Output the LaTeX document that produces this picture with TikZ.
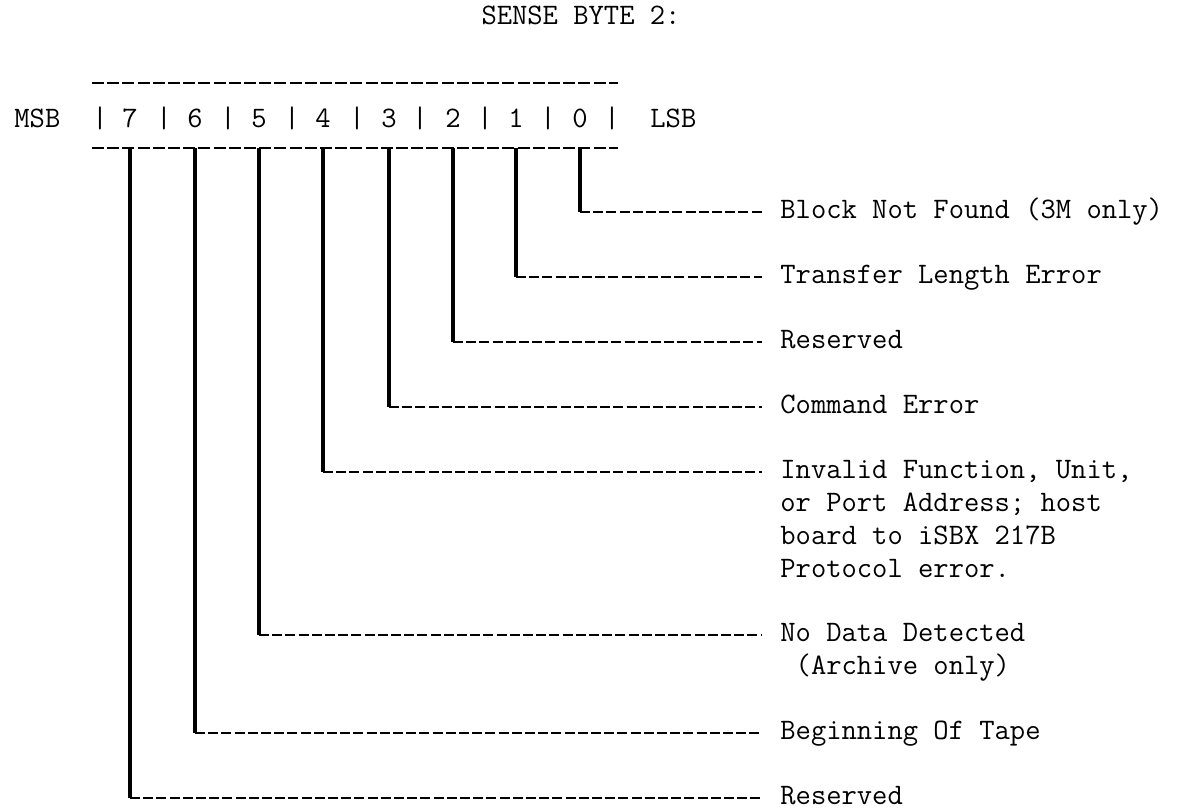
\documentclass[tikz,border=0pt]{standalone}
\usepackage{fontspec}
\begin{document}
\begin{tikzpicture}[x=0.5pt, y=-0.5pt]
\tikzset{
    txt/.style={font=\ttfamily\fontsize{14.86}{16.5}\selectfont\addfontfeature{FakeBold=1.2},
                inner sep=0pt, anchor=base},
    desc/.style={txt, anchor=base west, align=left},
    rule/.style={line width=1.2pt, dash pattern=on 6pt off 1.6pt},
    stem/.style={line width=2.3pt},
    leader/.style={line width=1.1pt, dash pattern=on 5pt off 1.6pt, shorten >=9pt}
}
\useasboundingbox (0,0) rectangle (1189,810);
\node[txt] (title) at (581,24) {SENSE BYTE 2:};
% the byte
\coordinate (rt) at (92,83);
\coordinate (rb) at (92,148);
\draw[rule] (rt) -- ++(526,0);
\draw[rule] (rb) -- ++(526,0);
\node[desc] (msb) at (14,127)  {MSB};
\node[desc] (lsb) at (650,127) {LSB};
\node[txt] (b7) at (130,127) {7};
\node[txt] (b6) at (195,127) {6};
\node[txt] (b5) at (259,127) {5};
\node[txt] (b4) at (323,127) {4};
\node[txt] (b3) at (389,127) {3};
\node[txt] (b2) at (453,127) {2};
\node[txt] (b1) at (516,127) {1};
\node[txt] (b0) at (580,127) {0};
\foreach \x [count=\i] in {100,164,228,292,357,420,485,548,612}
    \node[txt] (s\i) at (\x,127) {|};
% meanings (base of a multi-line text is its last line)
\node[desc] (l0) at (780,218) {Block Not Found (3M only)};
\node[desc] (l1) at (780,283) {Transfer Length Error};
\node[desc] (l2) at (780,348) {Reserved};
\node[desc] (l3) at (780,413) {Command Error};
\node[desc] (l4) at (780,577) {Invalid Function, Unit,\\or Port Address; host\\board to iSBX 217B\\Protocol error.};
\node[desc] (l5) at (780,674) {No Data Detected\\\hphantom{N}(Archive only)};
\node[desc] (l6) at (780,739) {Beginning Of Tape};
\node[desc] (l7) at (780,804) {Reserved};
\coordinate (k0) at (b0 |- 0,212);
\coordinate (k1) at (b1 |- 0,277);
\coordinate (k2) at (b2 |- 0,342);
\coordinate (k3) at (b3 |- 0,407);
\coordinate (k4) at (b4 |- 0,472);
\coordinate (k5) at (b5 |- 0,635);
\coordinate (k6) at (b6 |- 0,733);
\coordinate (k7) at (b7 |- 0,798);
\draw[stem] (b0 |- rb) -- (k0);
\draw[stem] (b1 |- rb) -- (k1);
\draw[stem] (b2 |- rb) -- (k2);
\draw[stem] (b3 |- rb) -- (k3);
\draw[stem] (b4 |- rb) -- (k4);
\draw[stem] (b5 |- rb) -- (k5);
\draw[stem] (b6 |- rb) -- (k6);
\draw[stem] (b7 |- rb) -- (k7);
\draw[leader] (k0) -- (k0 -| l0.west);
\draw[leader] (k1) -- (k1 -| l1.west);
\draw[leader] (k2) -- (k2 -| l2.west);
\draw[leader] (k3) -- (k3 -| l3.west);
\draw[leader] (k4) -- (k4 -| l4.west);
\draw[leader] (k5) -- (k5 -| l5.west);
\draw[leader] (k6) -- (k6 -| l6.west);
\draw[leader] (k7) -- (k7 -| l7.west);
\end{tikzpicture}
\end{document}
